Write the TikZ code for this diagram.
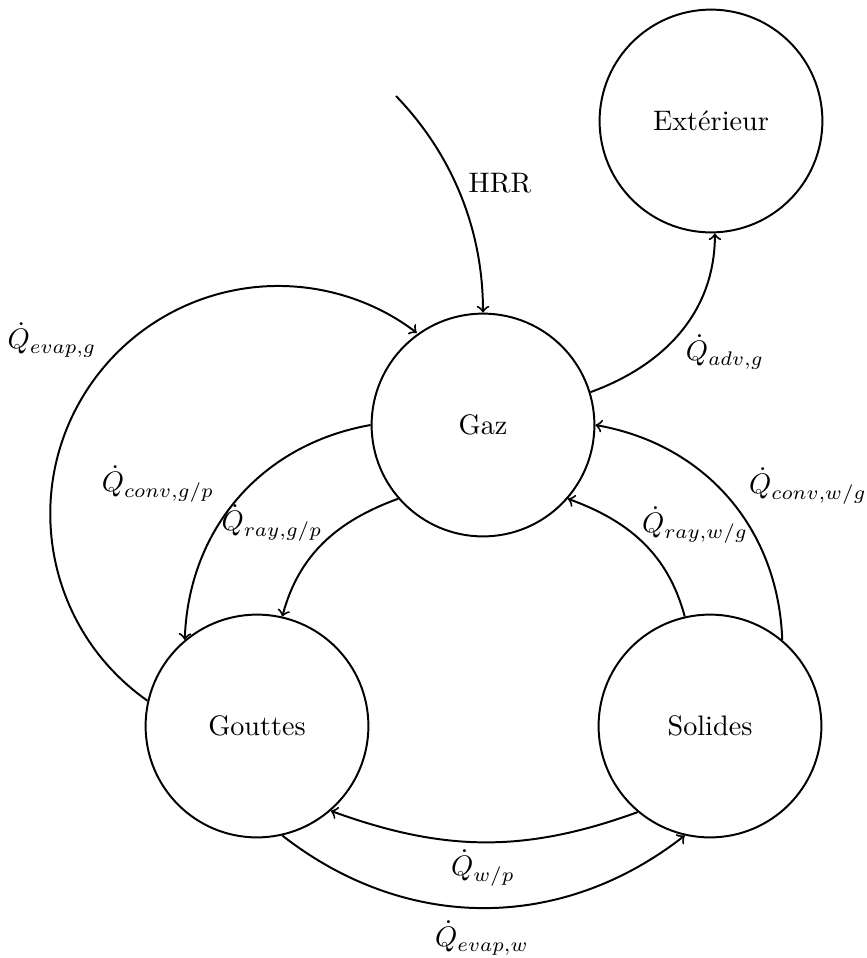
\documentclass[tikz,border=0pt]{standalone}
\begin{document}
\begin{tikzpicture}[x=0.3546pt,y=0.3546pt,
  state/.style={circle,draw,line width=0.7pt,minimum size=79pt,inner sep=0pt},
  flow/.style={->,line width=0.7pt},
  lab/.style={inner sep=0pt}]
\useasboundingbox (0,0) rectangle (866,-958);
\node[state] (gaz) at (483,-425) {Gaz};
\node[state] (ext) at (711,-121) {Extérieur};
\node[state] (gou) at (257,-726) {Gouttes};
\node[state] (sol) at (710,-726) {Solides};
\coordinate (hrr) at (396,-96);
\draw[flow] (hrr) to[out=-46,in=90,looseness=0.9] (gaz.north);
\draw[flow] (gaz.17) to[out=20,in=-90] (ext.-88);
\draw[flow] (gou.167) arc[start angle=235,end angle=52.6,radius=228];
\draw[flow] (gaz.west) to[out=190,in=88] (gou.130);
\draw[flow] (gaz.221) to[out=200,in=75] (gou.77);
\draw[flow] (sol.103) to[out=105,in=-20] (gaz.-41);
\draw[flow] (sol.50) to[out=92,in=-10] (gaz.east);
\draw[flow] (sol.230) to[out=200,in=-20] (gou.-49);
\draw[flow] (gou.-77) to[out=-38,in=218] (sol.257);
\node[lab] (lhrr) at (500,-183) {HRR};
\node[lab] (ladv) at (725,-352) {$\dot{Q}_{adv,g}$};
\node[lab] (levg) at (52,-340) {$\dot{Q}_{evap,g}$};
\node[lab] (lcgp) at (158,-484) {$\dot{Q}_{conv,g/p}$};
\node[lab] (lrgp) at (272,-523) {$\dot{Q}_{ray,g/p}$};
\node[lab] (lrwg) at (695,-525) {$\dot{Q}_{ray,w/g}$};
\node[lab] (lcwg) at (808,-486) {$\dot{Q}_{conv,w/g}$};
\node[lab] (lwp) at (483,-868) {$\dot{Q}_{w/p}$};
\node[lab] (levw) at (482,-938) {$\dot{Q}_{evap,w}$};
\end{tikzpicture}
\end{document}
